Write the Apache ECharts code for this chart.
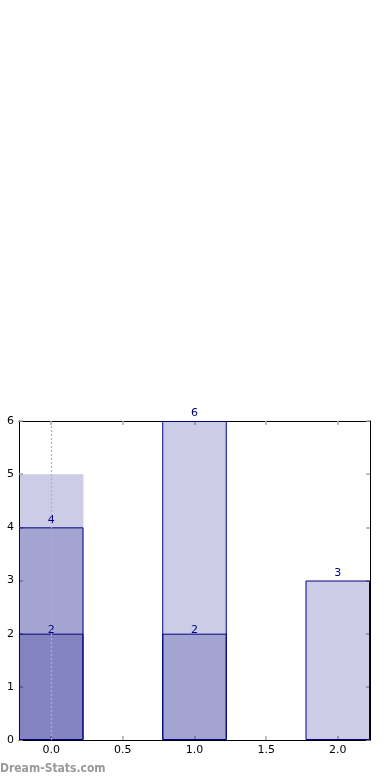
<!DOCTYPE html>
<html>
<head>
<meta charset="utf-8">
<script src="https://cdn.jsdelivr.net/npm/echarts@6/dist/echarts.min.js"></script>
<style>
html,body{margin:0;padding:0;background:#fff;}
#chart{width:390px;height:780px;}
</style>
</head>
<body>
<div id="chart"></div>
<script>
var positions = [0, 1, 2];
var seriesA = [5, null, null];
var seriesB = [4, 6, 3];
var seriesC = [2, 2, null];
var xTicks = [0, 0.5, 1, 1.5, 2];
var yTicks = [0, 1, 2, 3, 4, 5, 6];

function pairs(vals) {
  var out = [];
  for (var i = 0; i < positions.length; i++) {
    if (vals[i] !== null) out.push([positions[i], vals[i]]);
  }
  return out;
}

var fillColor = 'rgba(0,0,128,0.2)';
var edge = '#000080';
var font = 'DejaVu Sans';

var chart = echarts.init(document.getElementById('chart'), null, {renderer: 'canvas'});

var xCommon = {
  type: 'value', min: -0.225, max: 2.225,
  splitLine: {show: false},
  axisLine: {show: true, onZero: false, lineStyle: {color: '#000', width: 1}},
  axisTick: {show: true, inside: true, length: 4, customValues: xTicks, lineStyle: {color: '#aaa', width: 1.5}}
};
var yCommon = {
  type: 'value', min: 0, max: 6, interval: 1,
  splitLine: {show: false},
  axisLine: {show: true, onZero: false, lineStyle: {color: '#000', width: 1}},
  axisTick: {show: true, inside: true, length: 4, lineStyle: {color: '#aaa', width: 1.5}}
};

chart.setOption({
  animation: false,
  grid: {left: 19, right: 20, top: 421, bottom: 40},
  xAxis: [
    Object.assign({}, xCommon, {position: 'bottom',
      axisLabel: {show: true, customValues: xTicks, color: '#000', fontFamily: font, fontSize: 11, margin: 5,
        formatter: function (v) { return v.toFixed(1); }}}),
    Object.assign({}, xCommon, {position: 'top', axisLabel: {show: false}})
  ],
  yAxis: [
    Object.assign({}, yCommon, {position: 'left',
      axisLabel: {show: true, color: '#000', fontFamily: font, fontSize: 11, margin: 5}}),
    Object.assign({}, yCommon, {position: 'right', axisLabel: {show: false}})
  ],
  series: [
    {
      type: 'bar', xAxisIndex: 0, yAxisIndex: 0,
      data: pairs(seriesA), barWidth: 64.5, barGap: '-100%',
      itemStyle: {color: fillColor, borderWidth: 0}
    },
    {
      type: 'bar', xAxisIndex: 0, yAxisIndex: 0,
      data: pairs(seriesB), barWidth: 64.5, barGap: '-100%',
      itemStyle: {color: fillColor, borderColor: edge, borderWidth: 1},
      label: {show: true, position: 'top', distance: 2, color: edge, fontFamily: font, fontSize: 11,
        formatter: function (p) { return p.value[1]; }}
    },
    {
      type: 'bar', xAxisIndex: 0, yAxisIndex: 0,
      data: pairs(seriesC), barWidth: 64.5, barGap: '-100%',
      itemStyle: {color: fillColor, borderColor: edge, borderWidth: 1},
      label: {show: true, position: 'top', distance: -2, color: edge, fontFamily: font, fontSize: 11,
        formatter: function (p) { return p.value[1]; }},
      markLine: {
        silent: true, symbol: 'none', label: {show: false},
        lineStyle: {color: '#b0b0b0', type: [2, 2], width: 1.2},
        data: [{xAxis: 0}]
      }
    }
  ],
  graphic: [{
    type: 'text', left: 0, top: 763,
    style: {text: 'Dream-Stats.com', fill: '#999', font: 'bold 12px "DejaVu Sans Condensed", "DejaVu Sans"'}
  }]
});
</script>
</body>
</html>
